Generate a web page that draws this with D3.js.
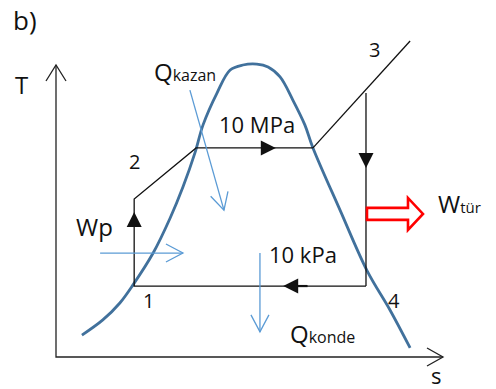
<!DOCTYPE html>
<html>
<head>
<meta charset="utf-8">
<script src="https://cdn.jsdelivr.net/npm/d3@7"></script>
<style>
  body { margin: 0; background: #fff; }
  text { font-family: "Open Sans", "Liberation Sans", sans-serif; fill: #111; }
</style>
</head>
<body>
<div id="chart"></div>
<script>
//************* data ***************/
// saturation dome (s, T in axis units 0..100)
var domeS = [6.7, 12.1, 16.5, 19.9, 25.1, 29.5, 32.8, 35.9, 38.0, 41.6, 45.0, 48.3, 51.9, 54.8, 57.9, 61.2, 64.3, 66.4, 73.4, 80.4, 86.3, 91.5];
var domeT = [7.5, 12.7, 18.5, 24.7, 35.6, 47.6, 58.2, 69.9, 79.5, 90.4, 98.3, 100.0, 100.3, 99.3, 95.9, 88.0, 79.5, 71.6, 50.3, 29.5, 16.1, 3.1];

// Rankine cycle states
var stateNames = ["1", "2", "3", "4"];
var stateS = [20.2, 36.2, 80.1, 80.1];
var stateT = [24.3, 71.6, 90.4, 24.3];
var pumpEndT = 54.1;          // top of pump compression
var superS = [66.4, 91.5];    // superheat line ends
var superT = [71.6, 108.2];

var pressures = ["10 MPa", "10 kPa"];

//************* set dimensions ***************/
var width = 496, height = 389;
var x = d3.scaleLinear().domain([0, 100]).range([56, 443]);
var y = d3.scaleLinear().domain([0, 100]).range([357, 65]);

var svg = d3.select("#chart").append("svg")
    .attr("width", width)
    .attr("height", height);

//************* axes ***************/
var ax = svg.append("g").attr("stroke", "#222").attr("stroke-width", 1.3).attr("fill", "none");
ax.append("path").attr("d", d3.line()([[x(0), y(100)], [x(0), y(0)], [x(100), y(0)]]));
ax.append("path").attr("d", "M" + (x(0) - 10) + "," + (y(100) + 16) + "L" + x(0) + "," + y(100) + "L" + (x(0) + 10) + "," + (y(100) + 16));
ax.append("path").attr("d", "M" + (x(100) - 16) + "," + (y(0) - 9) + "L" + x(100) + "," + y(0) + "L" + (x(100) - 16) + "," + (y(0) + 9));

//************* dome ***************/
var domePts = domeS.map(function(s, i) { return [x(s), y(domeT[i])]; });
svg.append("path")
    .attr("d", d3.line().curve(d3.curveCatmullRom.alpha(0.5))(domePts))
    .attr("fill", "none")
    .attr("stroke", "#41719c")
    .attr("stroke-width", 2.8);

//************* cycle ***************/
var cyc = svg.append("g").attr("stroke", "#111").attr("stroke-width", 1.3).attr("fill", "none");
var p1 = [x(stateS[0]), y(stateT[0])],
    p1b = [x(stateS[0]), y(pumpEndT)],
    p2 = [x(stateS[1]), y(stateT[1])],
    p2b = [x(superS[0]), y(superT[0])],
    p3end = [x(superS[1]), y(superT[1])],
    p3 = [x(stateS[2]), y(stateT[2])],
    p4 = [x(stateS[3]), y(stateT[3])];
cyc.append("path").attr("d", d3.line()([p4, p1, p1b, p2, p2b]));
cyc.append("path").attr("d", d3.line()([p2b, p3end]));
cyc.append("path").attr("d", d3.line()([p3, p4]));

// filled arrowheads: tip point, direction
function head(tip, dx, dy) {
  var L = 15, W = 7.5;
  var bx = tip[0] - dx * L, by = tip[1] - dy * L;
  return "M" + tip[0] + "," + tip[1] +
    "L" + (bx - dy * W) + "," + (by + dx * W) +
    "L" + (bx + dy * W) + "," + (by - dx * W) + "Z";
}
var heads = [
  head([p1[0], p1[1] - 74], 0, -1),
  head([x(56.8), p2[1]], 1, 0),
  head([p3[0], y(64.7)], 0, 1),
  head([x(58.7), p4[1]], -1, 0)
];
svg.append("g").selectAll("path").data(heads).enter().append("path")
    .attr("d", function(d) { return d; })
    .attr("fill", "#111");
svg.append("line")
    .attr("x1", x(58.7) + 14).attr("x2", x(65)).attr("y1", p4[1]).attr("y2", p4[1])
    .attr("stroke", "#111").attr("stroke-width", 2.2);

//************* heat arrows (thin blue) ***************/
var blue = svg.append("g").attr("stroke", "#5b9bd5").attr("stroke-width", 1.3).attr("fill", "none");
function openArrow(a, b) {
  var dx = b[0] - a[0], dy = b[1] - a[1], n = Math.hypot(dx, dy);
  dx /= n; dy /= n;
  var L = 17, W = 9;
  var bx = b[0] - dx * L, by = b[1] - dy * L;
  blue.append("path").attr("d", "M" + a[0] + "," + a[1] + "L" + b[0] + "," + b[1]);
  blue.append("path").attr("d", "M" + (bx - dy * W) + "," + (by + dx * W) + "L" + b[0] + "," + b[1] + "L" + (bx + dy * W) + "," + (by - dx * W));
}
openArrow([x(34.6), y(91.4)], [x(43.4), y(50.3)]);
openArrow([x(11.4), y(35.6)], [x(32.8), y(35.6)]);
openArrow([x(52.7), y(35.6)], [x(52.7), y(8.6)]);

//************* turbine work arrow ***************/
var tx = p3[0] + 1, ty = y(49.0);
svg.append("path")
    .attr("d", "M" + tx + "," + (ty - 6) + "H" + (tx + 41) + "V" + (ty - 16) + "L" + (tx + 56) + "," + ty +
               "L" + (tx + 41) + "," + (ty + 16) + "V" + (ty + 6) + "H" + tx + "Z")
    .attr("fill", "#fff")
    .attr("stroke", "#ff0000")
    .attr("stroke-width", 2.6);

//************* labels ***************/
function label(txt, lx, ly, size, sub, subSize) {
  var t = svg.append("text").attr("x", lx).attr("y", ly).style("font-size", size + "px").text(txt);
  if (sub) t.append("tspan").style("font-size", subSize + "px").text(sub);
}
label("b)", 13, 30, 26);
label("T", 15, 94, 24);
label("s", 431, 384, 22);
label("Q", 154, 81, 24, "kazan", 16);
label("Q", 290, 343, 24, "konde", 16);
label("W", 438, 213, 24, "tür", 15);
label("Wp", 76, 236, 24);
label(pressures[0], 219, 133, 22);
label(pressures[1], 269, 263, 22);

var numPos = [[143, 308], [129, 169], [369, 57], [388, 308]];
stateNames.forEach(function(n, i) { label(n, numPos[i][0], numPos[i][1], 20); });
</script>
</body>
</html>
